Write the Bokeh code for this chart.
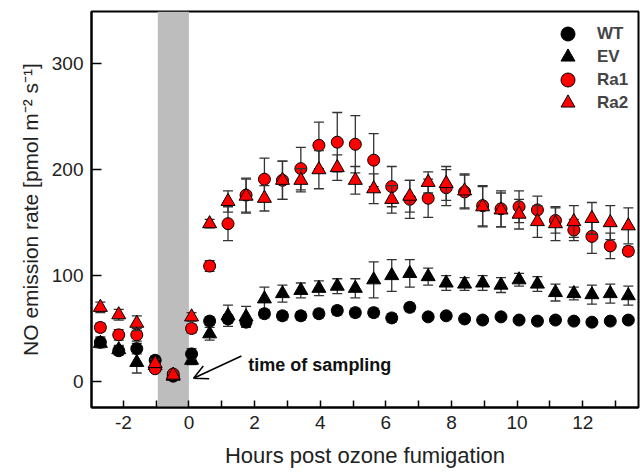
from bokeh.plotting import figure
from bokeh.models import (Range1d, FixedTicker, BoxAnnotation, Label, Arrow, OpenHead,
                          Legend, LegendItem, ColumnDataSource)
from bokeh.embed import file_html
from bokeh.resources import INLINE

# ---- data ----
hours = [-2.70, -2.14, -1.59, -1.03, -0.48, 0.08, 0.63, 1.19, 1.74, 2.30,
         2.85, 3.41, 3.96, 4.52, 5.07, 5.63, 6.18, 6.73, 7.29, 7.84,
         8.40, 8.95, 9.51, 10.06, 10.62, 11.17, 11.73, 12.28, 12.84, 13.39]

wt = [37, 29, 31, 20, 5, 26, 57, 59, 56, 64, 62, 62, 64, 67, 65, 65, 60, 70,
      61, 62, 59, 58, 61, 58, 57, 58, 57, 56, 57, 58]
wt_err = [5, 4, 5, 4, 3, 5, 4, 4, 4, 4, 4, 4, 4, 4, 4, 4, 4, 4,
          3, 3, 3, 3, 3, 3, 3, 3, 3, 3, 3, 3]

ev = [36, 30, 18, 15, 5, 20, 45, 62, 61, 78, 83, 86, 88, 90, 88, 96, 100, 102,
      99, 93, 92, 93, 91, 96, 92, 84, 83, 82, 83, 81]
ev_err = [4, 4, 10, 4, 3, 4, 6, 10, 10, 11, 8, 7, 7, 7, 9, 17, 15, 13,
          8, 7, 6, 7, 7, 6, 7, 8, 6, 9, 9, 9]

ra1 = [51, 44, 44, 12, 7, 50, 109, 149, 176, 191, 190, 201, 223, 226, 224, 209, 184, 172,
       173, 183, 179, 166, 163, 165, 162, 152, 143, 137, 128, 123]
ra1_err = [4, 5, 6, 3, 3, 4, 5, 16, 16, 20, 18, 20, 22, 28, 27, 25, 19, 18,
           18, 17, 16, 19, 17, 15, 13, 12, 10, 16, 12, 4]

ra2 = [70, 63, 55, 17, 6, 61, 149, 170, 175, 173, 190, 190, 200, 202, 190, 182, 172, 175,
       188, 187, 180, 165, 162, 158, 151, 149, 151, 154, 150, 147]
ra2_err = [5, 5, 7, 4, 3, 4, 4, 10, 16, 12, 18, 11, 18, 12, 13, 14, 13, 15,
           10, 16, 16, 19, 16, 14, 15, 16, 15, 15, 16, 17]

series_names = ["WT", "EV", "Ra1", "Ra2"]
x_ticks = [-2, 0, 2, 4, 6, 8, 10, 12]
x_tick_labels = ["-2", "0", "2", "4", "6", "8", "10", "12"]
x_minor = [-3, -1, 1, 3, 5, 7, 9, 11, 13]
y_ticks = [0, 100, 200, 300]

FONT = "Liberation Sans"

p = figure(width=640, height=472, output_backend="svg", toolbar_location=None,
           x_range=Range1d(-2.97, 13.70), y_range=Range1d(-24.6, 349.4),
           min_border_left=91, min_border_right=2, min_border_top=11, min_border_bottom=65)
p.grid.visible = False
p.background_fill_color = "white"
p.border_fill_color = "white"
p.outline_line_color = "black"
p.outline_line_width = 2
p.outline_line_alpha = 1

# sampling window shading
p.add_layout(BoxAnnotation(left=-0.95, right=0.0, fill_color="#bdbdbd", fill_alpha=1.0,
                           line_alpha=0, level="underlay"))


def series(y, err, marker, fill, size):
    lo = [a - b for a, b in zip(y, err)]
    hi = [a + b for a, b in zip(y, err)]
    src = ColumnDataSource(dict(x=hours, y=y, lo=lo, hi=hi))
    p.segment(x0="x", y0="lo", x1="x", y1="hi", source=src, line_color="#333333", line_width=1.3)
    p.scatter(x="x", y="lo", marker="dash", size=10, line_color="#333333", line_width=1.3, source=src)
    p.scatter(x="x", y="hi", marker="dash", size=10, line_color="#333333", line_width=1.3, source=src)
    return p.scatter(x="x", y="y", marker=marker, size=size, fill_color=fill,
                     line_color="black", line_width=1, source=src)


r_ev = series(ev, ev_err, "triangle", "black", 14)
r_wt = series(wt, wt_err, "circle", "black", 12)
r_ra1 = series(ra1, ra1_err, "circle", "#ff0000", 12)
r_ra2 = series(ra2, ra2_err, "triangle", "#ff0000", 14)

# axes
for ax in (p.xaxis[0], p.yaxis[0]):
    ax.axis_line_width = 2
    ax.major_tick_line_width = 1.5
    ax.minor_tick_line_width = 1.5
    ax.major_tick_out = 0
    ax.minor_tick_out = 0
    ax.major_label_text_font = FONT
    ax.major_label_text_font_size = "19px"
    ax.major_label_text_color = "#222222"
    ax.axis_label_text_font = FONT
    ax.axis_label_text_font_style = "normal"
    ax.axis_label_text_color = "#222222"

p.xaxis.ticker = FixedTicker(ticks=x_ticks, minor_ticks=x_minor)
p.xaxis.major_label_overrides = dict(zip(x_ticks, x_tick_labels))
p.xaxis.major_tick_in = 7
p.xaxis.minor_tick_in = 7
p.xaxis.major_label_standoff = 8
p.xaxis.axis_label = "Hours post ozone fumigation"
p.xaxis.axis_label_text_font_size = "22px"
p.xaxis.axis_label_standoff = 11

p.yaxis.ticker = FixedTicker(ticks=y_ticks, minor_ticks=[])
p.yaxis.major_tick_in = 10
p.yaxis.minor_tick_in = 0
p.yaxis.major_label_standoff = 8
p.yaxis.axis_label = "NO emission rate [pmol m\u207b\u00b2 s\u207b\u00b9]"
p.yaxis.axis_label_text_font_size = "21px"
p.yaxis.axis_label_standoff = 7

# legend: one single-item legend per row so the markers can be large while rows stay tight
legend_rows = [(series_names[0], r_wt, 356), (series_names[1], r_ev, 333),
               (series_names[2], r_ra1, 310), (series_names[3], r_ra2, 287)]
for name, rend, ypos in legend_rows:
    p.add_layout(Legend(items=[LegendItem(label=name, renderers=[rend])],
                        location=(459, ypos), margin=0, padding=0, spacing=0,
                        glyph_width=35, glyph_height=35, label_standoff=12,
                        label_text_font=FONT, label_text_font_size="17px",
                        label_text_font_style="bold", label_height=35,
                        border_line_alpha=0, background_fill_alpha=0))

# annotation
p.add_layout(Label(x=1.81, y=15.1, text="time of sampling", text_font=FONT,
                   text_font_size="18px", text_font_style="bold", text_baseline="middle",
                   text_color="#111111"))
p.add_layout(Arrow(end=OpenHead(size=14, line_width=1.5, line_color="black"),
                   x_start=1.6, y_start=24.0, x_end=0.14, y_end=3.0,
                   line_width=1.5, line_color="black"))

open("out.html", "w").write(file_html(p, INLINE))
